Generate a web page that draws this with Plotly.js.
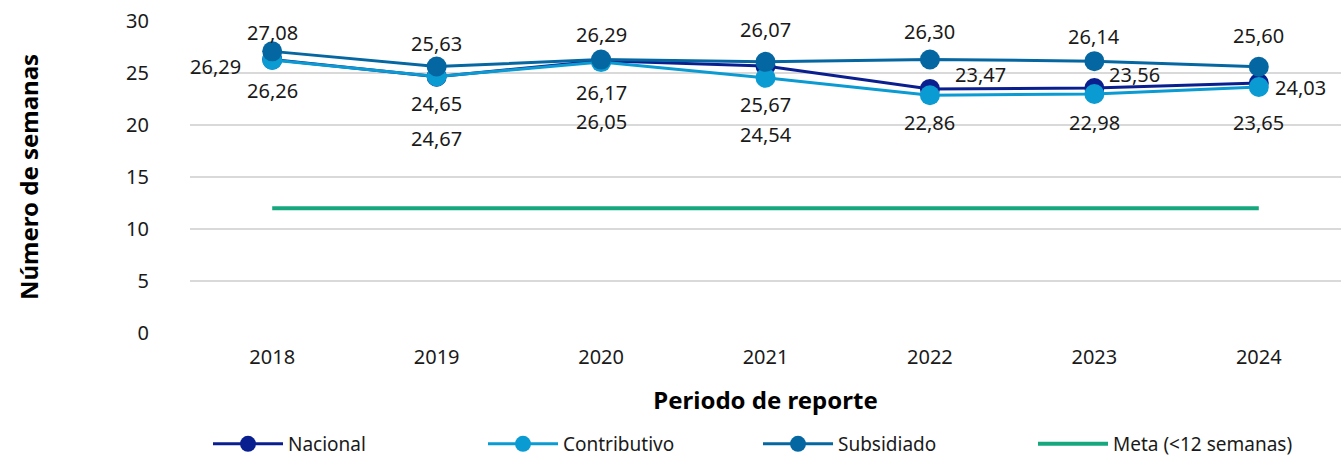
<!DOCTYPE html>
<html>
<head>
<meta charset="utf-8">
<script src="https://cdn.plot.ly/plotly-3.0.1.min.js"></script>
<style>html,body{margin:0;padding:0;background:#fff;}#chart{width:1341px;height:458px;}</style>
</head>
<body>
<div id="chart"></div>
<script>
// ---- data ----
var years = ["2018", "2019", "2020", "2021", "2022", "2023", "2024"];
var nacional = [26.29, 24.65, 26.17, 25.67, 23.47, 23.56, 24.03];
var contributivo = [26.26, 24.67, 26.05, 24.54, 22.86, 22.98, 23.65];
var subsidiado = [27.08, 25.63, 26.29, 26.07, 26.30, 26.14, 25.60];
var meta = [12, 12, 12, 12, 12, 12, 12];
var seriesNames = ["Nacional", "Contributivo", "Subsidiado", "Meta (<12 semanas)"];

// ---- styling / label placement (pixel offsets) ----
var colors = {nac: "#0A1F8F", con: "#0A9BD3", sub: "#0567A1", meta: "#16A77E"};
var labelOffsets = {
  nac: [[-57, -7], [0, -27], [0, -32], [0, -38], [51, 14], [40, 13], [42, -4]],
  con: [[0, -31], [0, -62], [0, -59], [0, -57], [0, -27], [0, -28], [0, -35]],
  sub: [[0, 19], [0, 23], [0, 25], [0, 32], [0, 28], [0, 25], [0, 31]]
};
var FONT = "Noto Sans, sans-serif";

function fmt(v) { return v.toFixed(2).replace(".", ","); }

function series(name, y, color) {
  return {
    type: "scatter", mode: "lines+markers", name: name, x: years, y: y,
    line: {color: color, width: 3},
    marker: {color: color, size: 20},
    hoverinfo: "x+y"
  };
}

var traces = [
  series(seriesNames[0], nacional, colors.nac),
  series(seriesNames[1], contributivo, colors.con),
  series(seriesNames[2], subsidiado, colors.sub),
  {type: "scatter", mode: "lines", name: seriesNames[3], x: years, y: meta,
   line: {color: colors.meta, width: 4}}
];

// annotations on a category axis use the category's serial index
var annotations = [];
function addLabels(vals, offs) {
  vals.forEach(function (v, i) {
    annotations.push({
      x: years.indexOf(years[i]), y: v, xref: "x", yref: "y", text: fmt(v), showarrow: false,
      xshift: offs[i][0], yshift: offs[i][1],
      xanchor: "center", yanchor: "middle",
      font: {family: FONT, size: 20, color: "#1a1a1a"}
    });
  });
}
addLabels(nacional, labelOffsets.nac);
addLabels(contributivo, labelOffsets.con);
addLabels(subsidiado, labelOffsets.sub);

var layout = {
  width: 1341, height: 458,
  margin: {l: 190, r: 0, t: 21, b: 125},
  paper_bgcolor: "#ffffff", plot_bgcolor: "#ffffff",
  font: {family: FONT, size: 20, color: "#1a1a1a"},
  showlegend: true,
  legend: {
    orientation: "h", xref: "container", yref: "container",
    x: 208 / 1341, xanchor: "left", y: 1 - 444 / 458, yanchor: "middle",
    font: {family: FONT, size: 19, color: "#1a1a1a"},
    itemwidth: 70, entrywidth: 190, traceorder: "normal"
  },
  xaxis: {
    type: "category", range: [-0.5, 6.5], showgrid: false, zeroline: false,
    showline: false, ticks: "", ticklabelstandoff: 10,
    tickfont: {family: FONT, size: 20, color: "#1a1a1a"},
    title: {text: "<b>Periodo de reporte</b>", font: {family: FONT, size: 24, color: "#000"}, standoff: 23}
  },
  yaxis: {
    range: [0, 30], dtick: 5, tick0: 0, showgrid: true, gridcolor: "#d9d9d9", gridwidth: 2,
    zeroline: false, showline: false, ticks: "", ticklabelstandoff: 40,
    tickfont: {family: FONT, size: 20, color: "#1a1a1a"},
    title: {text: "<b>Número de semanas</b>", font: {family: FONT, size: 24, color: "#000"}, standoff: 80}
  },
  annotations: annotations
};

Plotly.newPlot("chart", traces, layout, {displayModeBar: false});
</script>
</body>
</html>
